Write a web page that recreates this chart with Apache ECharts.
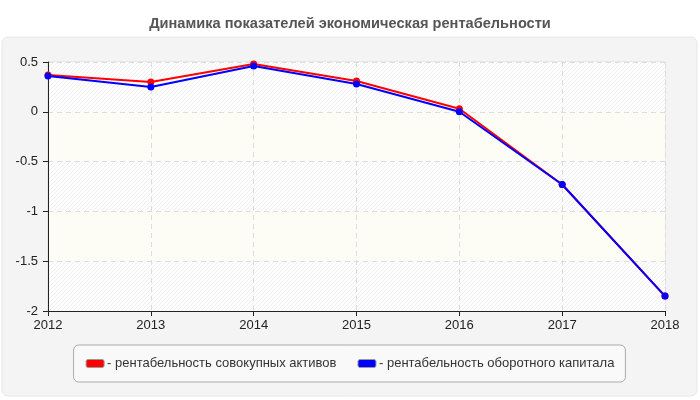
<!DOCTYPE html>
<html lang="ru">
<head>
<meta charset="UTF-8">
<title>Динамика показателей</title>
<script src="https://cdn.jsdelivr.net/npm/echarts@6/dist/echarts.min.js"></script>
<style>
    html, body { margin: 0; padding: 0; background: #fff; }
    #container { width: 700px; height: 400px; }
</style>
</head>
<body>
<div id="container"></div>
<script>
    var years = ['2012', '2013', '2014', '2015', '2016', '2017', '2018'];
    var assetsReturn = [0.37, 0.30, 0.48, 0.31, 0.03, -0.73, -1.85];   // рентабельность совокупных активов
    var capitalReturn = [0.36, 0.25, 0.46, 0.28, 0.00, -0.73, -1.85];  // рентабельность оборотного капитала
    var seriesNames = ['рентабельность совокупных активов', 'рентабельность оборотного капитала'];

    // hatched fill for every other band
    function makeHatch() {
        var c = document.createElement('canvas');
        c.width = 4; c.height = 4;
        var ctx = c.getContext('2d');
        ctx.fillStyle = '#ffffff';
        ctx.fillRect(0, 0, 4, 4);
        ctx.strokeStyle = '#efefef';
        ctx.lineWidth = 1;
        ctx.beginPath();
        ctx.moveTo(0, 4); ctx.lineTo(4, 0);
        ctx.moveTo(-1, 1); ctx.lineTo(1, -1);
        ctx.moveTo(3, 5); ctx.lineTo(5, 3);
        ctx.stroke();
        return c;
    }

    var myChart = echarts.init(document.getElementById('container'));
    var font = '"Liberation Sans", Arial, sans-serif';

    var option = {
        animation: false,
        textStyle: { fontFamily: font },
        graphic: [{
            type: 'rect',
            z: -10,
            shape: { x: 2, y: 37, width: 695, height: 359, r: 6 },
            style: { fill: '#f4f4f4', stroke: '#e6e6e6', lineWidth: 1 }
        }, {
            type: 'rect',
            z: -5,
            shape: { x: 48, y: 62, width: 617, height: 249 },
            style: { fill: 'none', stroke: '#dddddd', lineWidth: 1 }
        }],
        title: {
            text: 'Динамика показателей экономическая рентабельности',
            left: 'center',
            top: 11,
            textStyle: { fontSize: 14.6, fontWeight: 'bold', color: '#555', fontFamily: font }
        },
        grid: { left: 48, right: 35, top: 62, bottom: 89 },
        legend: {
            data: seriesNames,
            top: 345,
            left: 'center',
            icon: 'roundRect',
            itemWidth: 18,
            itemHeight: 8,
            itemGap: 21,
            formatter: '- {name}',
            padding: [12, 11, 12, 12],
            borderColor: '#aaaaaa',
            borderWidth: 1,
            borderRadius: 5,
            backgroundColor: '#f9f9f9',
            itemStyle: { borderColor: '#999', borderWidth: 1 },
            textStyle: { fontSize: 13, color: '#333', padding: [0, 0, 0, -2] }
        },
        xAxis: {
            type: 'category',
            data: years,
            boundaryGap: false,
            axisLine: { onZero: false, lineStyle: { color: '#222', width: 1 } },
            axisTick: { alignWithLabel: true, length: 5, lineStyle: { color: '#222' } },
            axisLabel: { fontSize: 13, color: '#222', margin: 8 },
            splitLine: { show: true, lineStyle: { color: '#dddddd', type: [5, 4] } }
        },
        yAxis: {
            type: 'value',
            min: -2,
            max: 0.5,
            interval: 0.5,
            axisLine: { show: true, lineStyle: { color: '#222', width: 1 } },
            axisTick: { show: true, length: 5, lineStyle: { color: '#222' } },
            axisLabel: { fontSize: 13, color: '#222', margin: 10 },
            splitLine: { show: true, lineStyle: { color: '#dddddd', type: [5, 4] } },
            splitArea: {
                show: true,
                areaStyle: { color: [{ image: makeHatch(), repeat: 'repeat' }, '#fdfdf6'] }
            }
        },
        series: [{
            name: seriesNames[0],
            type: 'line',
            data: assetsReturn,
            color: '#ff0000',
            symbol: 'circle',
            symbolSize: 7,
            lineStyle: { width: 2, color: '#ff0000' },
            itemStyle: { color: '#ff0000' }
        }, {
            name: seriesNames[1],
            type: 'line',
            data: capitalReturn,
            color: '#0000ff',
            symbol: 'circle',
            symbolSize: 7,
            lineStyle: { width: 2, color: '#0000ff' },
            itemStyle: { color: '#0000ff' }
        }]
    };
    myChart.setOption(option);
</script>
</body>
</html>
